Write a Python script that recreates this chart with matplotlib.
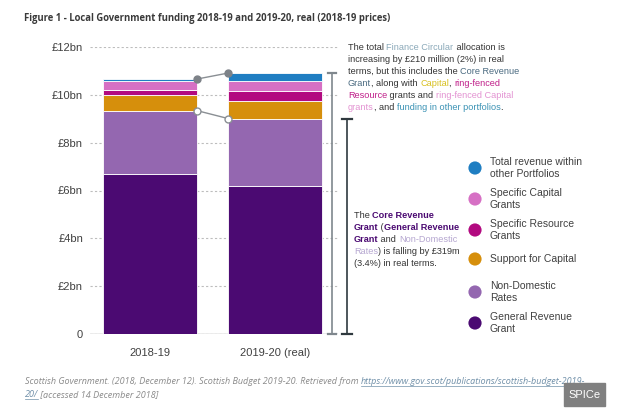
import matplotlib
matplotlib.use("Agg")
import matplotlib.pyplot as plt
from matplotlib.patches import Rectangle

# Local Government funding, £bn, real 2018-19 prices
years = ["2018-19", "2019-20 (real)"]
general_revenue = [6.69, 6.20]
non_domestic = [2.65, 2.81]
support_capital = [0.65, 0.73]
specific_resource = [0.22, 0.43]
specific_capital = [0.35, 0.42]
other_portfolios = [0.10, 0.32]

labels = ["General Revenue\nGrant", "Non-Domestic\nRates", "Support for Capital",
          "Specific Resource\nGrants", "Specific Capital\nGrants",
          "Total revenue within\nother Portfolios"]
colors = ["#4b0a72", "#9467b0", "#d68f0c", "#b20a80", "#d670c4", "#1f7ec2"]

yticks = [0, 2, 4, 6, 8, 10, 12]
ytick_labels = ["0", "£2bn", "£4bn", "£6bn", "£8bn", "£10bn", "£12bn"]

W, H = 640, 416
fig = plt.figure(figsize=(W / 100, H / 100), dpi=100)
ax = fig.add_axes([90 / W, 82 / H, 248 / W, 287 / H])

series = [general_revenue, non_domestic, support_capital,
          specific_resource, specific_capital, other_portfolios]
x = [0, 1]
bw = 0.752
bottom = [0.0, 0.0]
for vals, c in zip(series, colors):
    ax.bar(x, vals, bw, bottom=bottom, color=c, edgecolor="white", linewidth=0.6, zorder=2)
    bottom = [b + v for b, v in zip(bottom, vals)]
totals = bottom
core = [g + n for g, n in zip(general_revenue, non_domestic)]

# connectors between the bars
ax.plot([bw / 2, 1 - bw / 2], totals, color="#8a8f94", lw=1, marker="o", ms=5,
        mfc="#7d8288", mec="#7d8288", zorder=4, clip_on=False)
ax.plot([bw / 2, 1 - bw / 2], core, color="#8a8f94", lw=1, marker="o", ms=5,
        mfc="white", mec="#8a8f94", zorder=4, clip_on=False)

# brackets on the right
for bx, top, cap, col in [(1.456, totals[1], 0.03, "#7f878d"), (1.576, core[1], 0.04, "#2f393f")]:
    ax.plot([bx, bx], [0, top], color=col, lw=1.2, clip_on=False)
    ax.plot([bx - cap, bx + cap], [top, top], color=col, lw=1.6, clip_on=False)
    ax.plot([bx - cap, bx + cap], [0, 0], color=col, lw=1.6, clip_on=False)

ax.set_xlim(-0.48, 1.504)
ax.set_ylim(0, 12)
ax.set_yticks(yticks)
ax.set_yticklabels(ytick_labels, fontsize=8, color="#404040", family="Liberation Sans")
ax.set_xticks(x)
ax.set_xticklabels(years, fontsize=8, color="#404040", family="Liberation Sans")
ax.tick_params(axis="y", length=0, pad=5)
ax.tick_params(axis="x", length=0, pad=10)
for s in ax.spines.values():
    s.set_visible(False)
ax.yaxis.grid(True, linestyle=(0, (2, 2)), color="#bdbdbd", lw=0.8)
ax.axhline(0, color="#a8a8a8", lw=1, zorder=1)
ax.set_axisbelow(True)

# overlay in pixel coordinates for the text pieces
ov = fig.add_axes([0, 0, 1, 1])
ov.set_xlim(0, W)
ov.set_ylim(H, 0)
ov.axis("off")
renderer = fig.canvas.get_renderer()


def width(s, **kw):
    t = ov.text(0, 0, s, **kw)
    w = t.get_window_extent(renderer).width
    t.remove()
    return w


def rich_line(x0, y0, pieces, size, family="Liberation Sans"):
    xx = x0
    for s, col, wt in pieces:
        kw = dict(fontsize=size, family=family, fontweight=wt)
        ov.text(xx, y0, s, color=col, va="baseline", ha="left", **kw)
        xx += width(s + "x", **kw) - width("x", **kw)


ov.text(24, 21, "Figure 1 - Local Government funding 2018-19 and 2019-20, real (2018-19 prices)",
        fontsize=6.85, fontweight="bold", color="#3a3a3a", family="Open Sans", va="baseline")

dark = "#333333"
top_lines = [
    [("The total ", dark, "normal"), ("Finance Circular", "#8ba9b9", "normal"), (" allocation is", dark, "normal")],
    [("increasing by £210 million (2%) in real", dark, "normal")],
    [("terms, but this includes the ", dark, "normal"), ("Core Revenue", "#4a6a80", "normal")],
    [("Grant", "#4a6a80", "normal"), (", along with ", dark, "normal"), ("Capital", "#d8c020", "normal"),
     (", ", dark, "normal"), ("ring-fenced", "#c0208a", "normal")],
    [("Resource", "#c0208a", "normal"), (" grants and ", dark, "normal"),
     ("ring-fenced Capital", "#e393d2", "normal")],
    [("grants", "#e393d2", "normal"), (", and ", dark, "normal"),
     ("funding in other portfolios", "#3a92b4", "normal"), (".", dark, "normal")],
]
for i, pieces in enumerate(top_lines):
    rich_line(348, 50 + i * 12, pieces, 6.6)

purple = "#4b0a72"
light = "#b5a6d0"
bottom_lines = [
    [("The ", dark, "normal"), ("Core Revenue", purple, "bold")],
    [("Grant", purple, "bold"), (" (", dark, "normal"), ("General Revenue", purple, "bold")],
    [("Grant", purple, "bold"), (" and ", dark, "normal"), ("Non-Domestic", light, "normal")],
    [("Rates", light, "normal"), (") is falling by £319m", dark, "normal")],
    [("(3.4%) in real terms.", dark, "normal")],
]
for i, pieces in enumerate(bottom_lines):
    rich_line(354, 218 + i * 12, pieces, 6.6)

# legend
leg_y = [323, 292, 259, 230, 199, 168]
for lab, c, yy in zip(labels, colors, leg_y):
    ov.scatter([475], [yy], s=90, color=c, edgecolor="none")
    ov.text(490, yy, lab, fontsize=7.5, color="#404040", family="Liberation Sans",
            va="center", ha="left", linespacing=1.25)

# footer
url = "#6f8fa8"
grey = "#8a8a8a"
for line_y, pieces in [
    (384, [("Scottish Government. (2018, December 12). Scottish Budget 2019-20. Retrieved from ", grey),
           ("https://www.gov.scot/publications/scottish-budget-2019-", url)]),
    (397, [("20/", url), (" [accessed 14 December 2018]", grey)]),
]:
    xx = 25
    for s, col in pieces:
        kw = dict(fontsize=6.5, family="Open Sans", fontstyle="italic")
        ov.text(xx, line_y, s, color=col, va="baseline", ha="left", **kw)
        w = width(s + "x", **kw) - width("x", **kw)
        if col == url:
            ov.plot([xx, xx + w], [line_y + 1.5, line_y + 1.5], color=col, lw=0.5)
        xx += w

ov.add_patch(Rectangle((564, 383), 41, 23, color="#808080", zorder=5))
ov.text(584.5, 395, "SPICe", color="white", fontsize=8, family="Liberation Sans",
        ha="center", va="center", zorder=6)

fig.savefig("out.png", dpi=100)
